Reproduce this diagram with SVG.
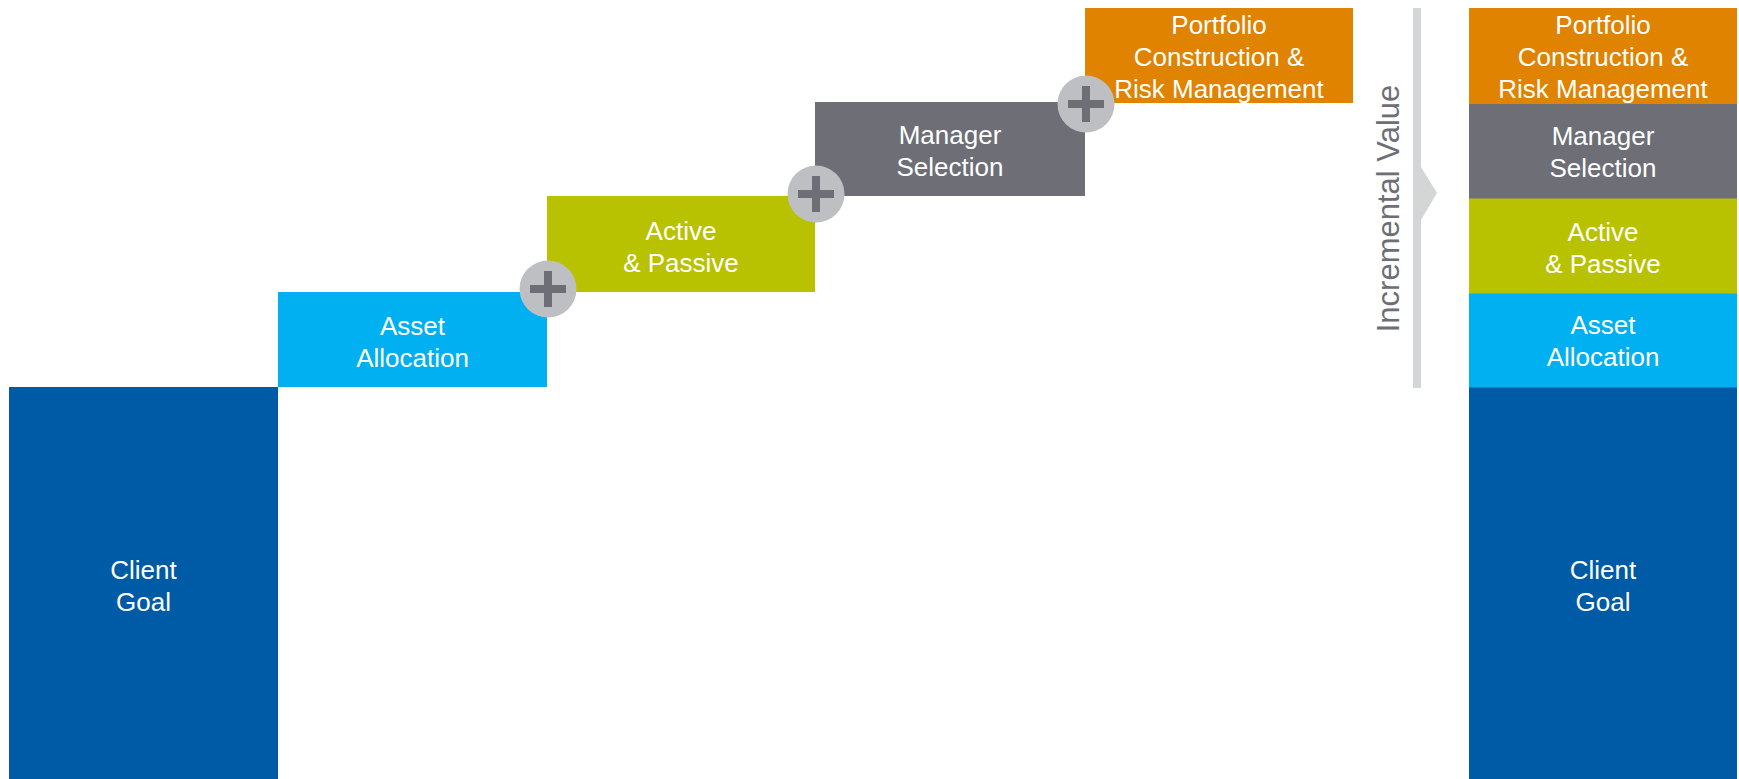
<svg xmlns="http://www.w3.org/2000/svg" width="1739" height="779" viewBox="0 0 1739 779">
<style>
.t{font-family:"Liberation Sans",Arial,sans-serif;font-size:26px;fill:#ffffff;text-anchor:middle}
.goal{fill:#005BA6}.asset{fill:#00B0F0}.active{fill:#B8C200}.mgr{fill:#6D6E76}.port{fill:#DF8300}
.plusc{fill:#BEBFC3}.plusb{fill:#6D6E76}
.iv{font-family:"Liberation Sans",Arial,sans-serif;font-size:31px;fill:#6D6E76;text-anchor:middle}
</style>
<defs>
<g id="plus"><circle r="28.5" class="plusc"/><rect x="-18" y="-4" width="36" height="8" class="plusb"/><rect x="-4" y="-18" width="8" height="36" class="plusb"/></g>
</defs>
<rect width="1739" height="779" fill="#ffffff"/>
<g id="client-goal-left"><rect x="9" y="387" width="269" height="392" class="goal"/><text class="t" x="143.5" y="579">Client</text><text class="t" x="143.5" y="611">Goal</text></g>
<g id="asset-left"><rect x="278" y="292" width="269" height="95" class="asset"/><text class="t" x="412.5" y="335">Asset</text><text class="t" x="412.5" y="367">Allocation</text></g>
<g id="active-left"><rect x="547" y="196" width="268" height="96" class="active"/><text class="t" x="681" y="240">Active</text><text class="t" x="681" y="272">&amp; Passive</text></g>
<g id="manager-left"><rect x="815" y="102" width="270" height="94" class="mgr"/><text class="t" x="950" y="144">Manager</text><text class="t" x="950" y="176">Selection</text></g>
<g id="portfolio-left"><rect x="1085" y="8" width="268" height="95" class="port"/><text class="t" x="1219" y="34">Portfolio</text><text class="t" x="1219" y="66">Construction &amp;</text><text class="t" x="1219" y="98">Risk Management</text></g>
<g id="plus-1"><use href="#plus" x="548" y="289"/></g>
<g id="plus-2"><use href="#plus" x="816" y="194"/></g>
<g id="plus-3"><use href="#plus" x="1086" y="104"/></g>
<g id="connectors">
<path d="M1413 8H1421V167L1437 193L1421 220V388H1413Z" fill="#D4D5D7"/>
</g>
<g id="incremental-value"><text class="iv" transform="translate(1399,208.5) rotate(-90)">Incremental Value</text></g>
<g id="stack-right">
<g id="client-goal-right"><rect x="1469" y="387" width="268" height="392" class="goal"/><text class="t" x="1603" y="579">Client</text><text class="t" x="1603" y="611">Goal</text></g>
<g id="asset-right"><rect x="1469" y="293" width="268" height="94.5" class="asset"/><text class="t" x="1603" y="334">Asset</text><text class="t" x="1603" y="366">Allocation</text></g>
<g id="active-right"><rect x="1469" y="198" width="268" height="95.5" class="active"/><text class="t" x="1603" y="241">Active</text><text class="t" x="1603" y="273">&amp; Passive</text></g>
<g id="manager-right"><rect x="1469" y="103.5" width="268" height="95" class="mgr"/><text class="t" x="1603" y="145">Manager</text><text class="t" x="1603" y="177">Selection</text></g>
<g id="portfolio-right"><rect x="1469" y="8" width="268" height="96" class="port"/><text class="t" x="1603" y="34">Portfolio</text><text class="t" x="1603" y="66">Construction &amp;</text><text class="t" x="1603" y="98">Risk Management</text></g>
</g>
</svg>
